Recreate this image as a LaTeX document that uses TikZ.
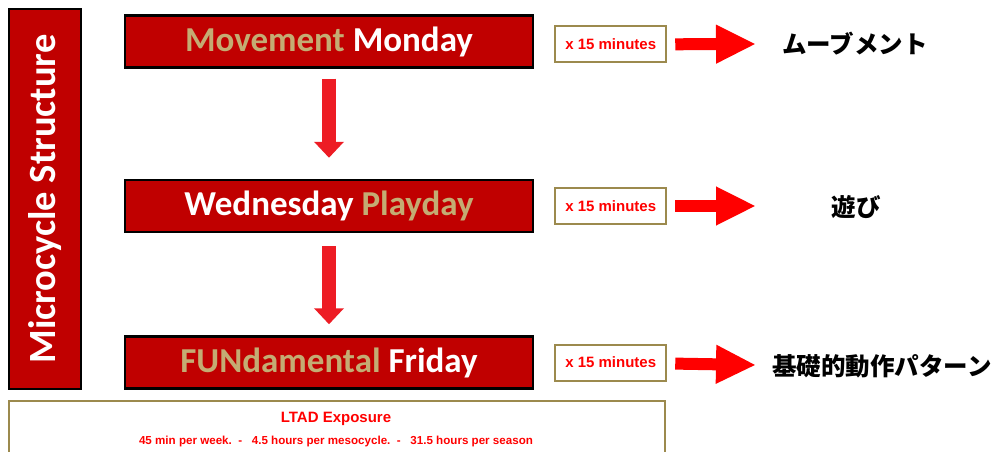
\documentclass[tikz,border=0pt]{standalone}
\usepackage{fontspec}
\setmainfont{Carlito}
\newfontfamily\arialfont{Liberation Sans}
\newfontfamily\jpfont{Noto Sans CJK JP}
\usetikzlibrary{arrows.meta,positioning}

\definecolor{boxred}{HTML}{C00000}
\definecolor{daygold}{HTML}{C4AC73}
\definecolor{goldline}{HTML}{9C8A4E}
\definecolor{arrowred}{HTML}{ED1C24}
\definecolor{textred}{HTML}{FF0000}

\begin{document}
\begin{tikzpicture}[
    x=1pt, y=-1pt,
    node distance=106pt and 20pt,
    daybox/.style={draw=black, line width=2.5pt, fill=boxred, minimum width=408pt, minimum height=52pt, inner sep=0pt, text=white, font=\fontsize{35}{40}\selectfont\bfseries},
    minbox/.style={draw=goldline, line width=2pt, fill=white, minimum width=111pt, minimum height=36pt, inner sep=0pt, text=textred, font=\arialfont\fontsize{15}{18}\selectfont\bfseries},
    jplabel/.style={text=black, font=\jpfont\fontsize{24.5}{28}\selectfont\bfseries},
    down/.style={arrowred, line width=14pt, -{Triangle[length=16pt, width=29pt]}, shorten <=10pt, shorten >=21pt},
    across/.style={red, line width=12pt, -{Triangle[length=40pt, width=36pt]}, shorten <=8pt}
]
\useasboundingbox[fill=white] (0,0) rectangle (997,452);

% side label
\node[draw=black, line width=2.5pt, fill=boxred, rotate=90, minimum width=380pt, minimum height=72pt, text=white, font=\fontsize{38.5}{44}\selectfont\bfseries] (micro) at (45,199) {Microcycle Structure};

% days
\node[daybox] (mon) at (329,41.5) {\textcolor{daygold}{Movement} Monday};
\node[daybox, below=110pt of mon] (wed) {Wednesday \textcolor{daygold}{Playday}};
\node[daybox, below=102pt of wed] (fri) {\textcolor{daygold}{FUNdamental} Friday};
\draw[down] (mon) -- (wed);
\draw[down, shorten <=13pt, shorten >=11pt] (wed) -- (fri);

% minutes
\node[minbox, right=of mon, yshift=-3pt] (monmin) {x 15 minutes};
\node[minbox, right=of wed] (wedmin) {x 15 minutes};
\node[minbox, right=of fri] (frimin) {x 15 minutes};

% japanese
\coordinate (montip) at (756,44);
\coordinate (wedtip) at (756,206);
\coordinate (fritip) at (756,365);
\node[jplabel] (monjp) at (855,44) {ムーブメント};
\node[jplabel] (wedjp) at (856,207) {遊び};
\node[jplabel] (frijp) at (882,366) {基礎的動作パターン};
\draw[across] (monmin) -- (montip);
\draw[across] (wedmin) -- (wedtip);
\draw[across] (frimin) -- (fritip);

% exposure
\node[draw=goldline, line width=2pt, minimum width=656pt, minimum height=80pt, anchor=north west] (ltad) at (8,400) {};
\node[text=textred, font=\arialfont\fontsize{15}{18}\selectfont\bfseries] (ltadtitle) at (336,419) {LTAD Exposure};
\node[text=textred, font=\arialfont\fontsize{11.6}{13}\selectfont\bfseries] (ltadline) at (336,441) {45 min per week.\ \ -\ \ \ 4.5 hours per mesocycle.\ \ -\ \ \ 31.5 hours per season};
\end{tikzpicture}
\end{document}
